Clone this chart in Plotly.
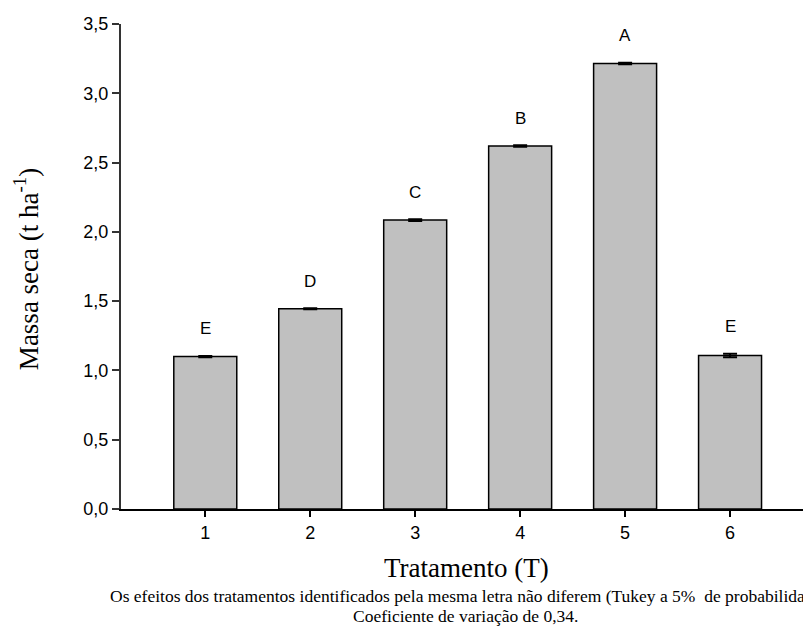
import plotly.graph_objects as go

tratamentos = [1, 2, 3, 4, 5, 6]
massa_seca = [1.10, 1.445, 2.085, 2.62, 3.215, 1.108]
erro = [0.005, 0.004, 0.006, 0.005, 0.006, 0.012]
letras = ["E", "D", "C", "B", "A", "E"]
y_ticks = [0.0, 0.5, 1.0, 1.5, 2.0, 2.5, 3.0, 3.5]

SERIF = "Liberation Serif, Times New Roman, serif"
SANS = "Liberation Sans, Arial, sans-serif"

fig = go.Figure()
fig.add_trace(go.Bar(
    x=tratamentos, y=massa_seca, width=0.6,
    marker=dict(color="#c0c0c0", line=dict(color="black", width=1.5)),
    error_y=dict(type="data", array=erro, visible=True, color="black", thickness=2, width=7),
    showlegend=False,
))

for t, v, e, l in zip(tratamentos, massa_seca, erro, letras):
    fig.add_annotation(x=t, y=v + e, text=l, showarrow=False, yanchor="middle", yshift=27,
                       font=dict(family=SANS, size=17, color="black"))

fig.add_annotation(xref="paper", yref="paper", x=-0.139, y=0.495, text="Massa seca (t ha<sup>-1</sup>)",
                   textangle=-90, showarrow=False, xanchor="center", yanchor="middle",
                   font=dict(family=SERIF, size=27, color="black"))
fig.add_annotation(xref="paper", yref="paper", x=0.507, y=-0.122, text="Tratamento (T)",
                   showarrow=False, xanchor="center", yanchor="middle",
                   font=dict(family=SERIF, size=27, color="black"))
fig.add_annotation(xref="paper", yref="paper", x=-0.019, y=-0.179,
                   text="Os efeitos dos tratamentos identificados pela mesma letra não diferem (Tukey a 5%  de probabilidade).",
                   showarrow=False, xanchor="left", yanchor="middle",
                   font=dict(family=SERIF, size=17.5, color="black"))
fig.add_annotation(xref="paper", yref="paper", x=0.505, y=-0.221,
                   text="Coeficiente de variação de 0,34.",
                   showarrow=False, xanchor="center", yanchor="middle",
                   font=dict(family=SERIF, size=17.5, color="black"))

fig.update_layout(
    width=803, height=628,
    margin=dict(l=121, r=0, t=24, b=119),
    plot_bgcolor="white", paper_bgcolor="white",
    separators=",.",
    xaxis=dict(range=[0.197, 6.695], tickvals=tratamentos, ticks="outside", ticklen=6,
               tickwidth=1.5, tickcolor="black", showline=True, linecolor="black", linewidth=2,
               showgrid=False, zeroline=False,
               tickfont=dict(family=SANS, size=18, color="black")),
    yaxis=dict(range=[0, 3.5], tickvals=y_ticks, tickformat=".1f", ticks="outside", ticklen=7,
               tickwidth=1.5, tickcolor="#333", showline=True, linecolor="#333", linewidth=2,
               showgrid=False, zeroline=False,
               tickfont=dict(family=SANS, size=18, color="black")),
)

fig.write_html("out.html", config={"displayModeBar": False},
               post_script="document.body.style.margin='0';document.body.style.overflow='hidden';")
